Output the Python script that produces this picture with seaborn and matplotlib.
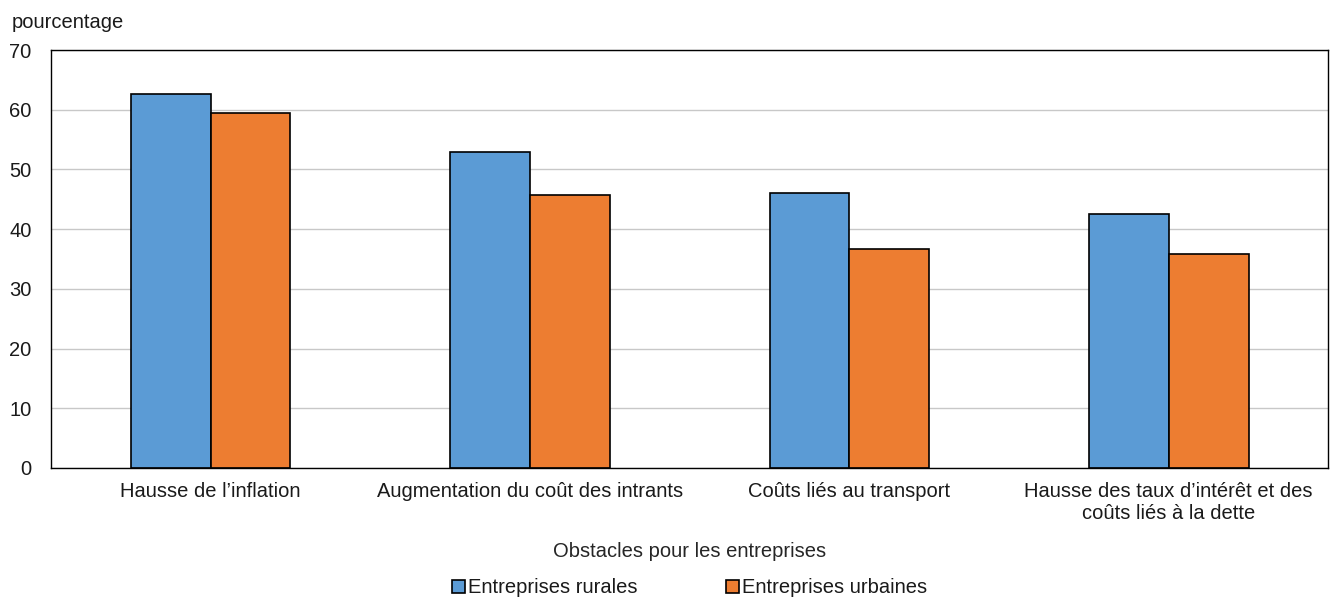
import matplotlib
matplotlib.use("Agg")
import matplotlib.pyplot as plt
import pandas as pd
import seaborn as sns

categories = [
    "Hausse de l\u2019inflation",
    "Augmentation du co\u00fbt des intrants",
    "Co\u00fbts li\u00e9s au transport",
    "Hausse des taux d\u2019int\u00e9r\u00eat et des\nco\u00fbts li\u00e9s \u00e0 la dette",
]
series = ["Entreprises rurales", "Entreprises urbaines"]
rural = [62.7, 52.9, 46.0, 42.5]
urbain = [59.4, 45.8, 36.7, 35.8]
colors = ["#5B9BD5", "#ED7D31"]

df = pd.DataFrame({
    "categorie": categories * 2,
    "serie": [series[0]] * 4 + [series[1]] * 4,
    "valeur": rural + urbain,
})

sns.set_style("white")
plt.rcParams["font.family"] = ["Liberation Sans", "DejaVu Sans"]
plt.rcParams["text.color"] = "#1a1a1a"
fs = 14.5

fig = plt.figure(figsize=(13.3, 5.99), dpi=100)
ax = fig.add_axes([0.0383, 0.2187, 0.9605, 0.6978])

sns.barplot(data=df, x="categorie", y="valeur", hue="serie", order=categories,
            hue_order=series, palette=colors, width=0.5, edgecolor="black",
            linewidth=1.2, saturation=1, ax=ax, legend=True)

ax.set_ylim(0, 70)
ax.set_yticks(range(0, 71, 10))
ax.yaxis.grid(True, color="#C8C8C8", linewidth=1)
ax.set_axisbelow(True)
for s in ax.spines.values():
    s.set_color("black")
    s.set_linewidth(1)
ax.tick_params(axis="both", length=0, labelsize=fs, colors="#1a1a1a")
ax.tick_params(axis="y", pad=14)
ax.tick_params(axis="x", pad=10)
ax.set_ylabel("")
ax.set_xlabel("Obstacles pour les entreprises", fontsize=fs, labelpad=14)
fig.text(0.009, 0.963, "pourcentage", fontsize=fs, ha="left", va="center")

ax.legend(loc="center", bbox_to_anchor=(0.5, -0.287), ncol=2, frameon=False,
          fontsize=fs, handlelength=0.65, handleheight=0.65, handletextpad=0.15,
          columnspacing=4.4)

fig.savefig("out.png", dpi=100)
